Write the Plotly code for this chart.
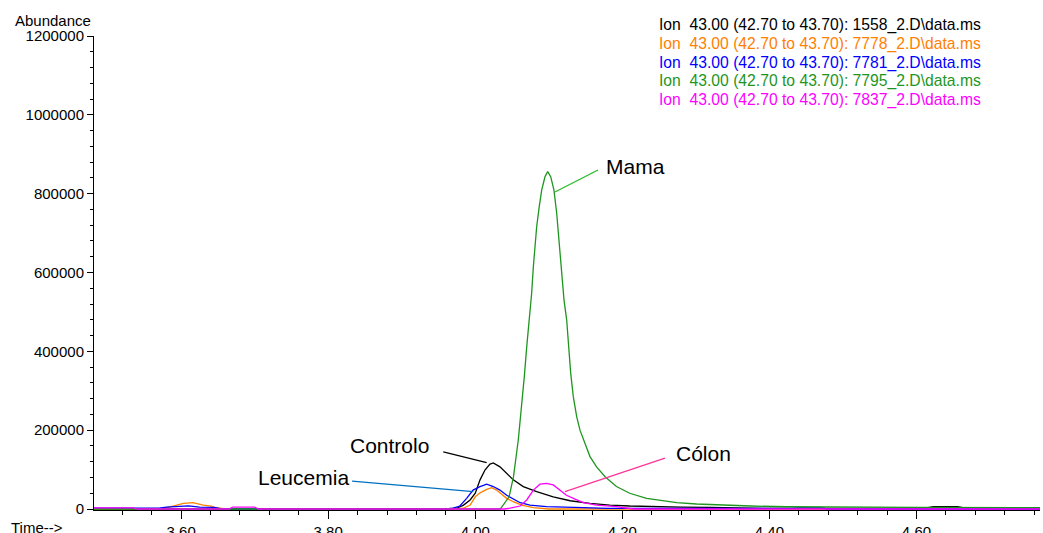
import plotly.graph_objects as go

# ---------------- data ----------------
series_names = [
    "Ion  43.00 (42.70 to 43.70): 1558_2.D\\data.ms",
    "Ion  43.00 (42.70 to 43.70): 7778_2.D\\data.ms",
    "Ion  43.00 (42.70 to 43.70): 7781_2.D\\data.ms",
    "Ion  43.00 (42.70 to 43.70): 7795_2.D\\data.ms",
    "Ion  43.00 (42.70 to 43.70): 7837_2.D\\data.ms",
]
series_colors = ["#000000", "#FF8000", "#0000FF", "#1E961E", "#FF00FF"]

t_1558 = [3.48, 3.96, 3.975, 3.984, 3.993, 4.000, 4.0065, 4.0132, 4.020, 4.0245, 4.0336,
          4.0427, 4.0517, 4.0653, 4.0835, 4.106, 4.129, 4.156, 4.183, 4.21, 4.24, 4.28,
          4.32, 4.36, 4.40, 4.61, 4.623, 4.656, 4.67, 4.77]
v_1558 = [0, 0, 2000, 10000, 23000, 40000, 74000, 99000, 114000, 117000, 107000,
          90000, 74000, 57000, 44000, 31000, 21000, 14500, 10000, 7600, 6000, 5000,
          4000, 3000, 1500, 1500, 6000, 6000, 1000, 0]

t_7778 = [3.48, 3.575, 3.589, 3.603, 3.616, 3.630, 3.641, 3.6455, 3.66, 3.975, 3.984,
          3.993, 4.000, 4.0065, 4.0155, 4.0223, 4.029, 4.036, 4.0427, 4.0517, 4.063,
          4.079, 4.10, 4.77]
v_7778 = [0, 1000, 7600, 14500, 16000, 10000, 7600, 4000, 0, 0, 2000,
          10000, 31000, 41000, 50000, 54000, 48000, 38000, 27000, 18500, 10000,
          3500, 0, 0]

t_7781 = [3.48, 3.57, 3.58, 3.60, 3.61, 3.625, 3.645, 3.655, 3.96, 3.970, 3.979, 3.9883,
          3.997, 4.0065, 4.0155, 4.0245, 4.0336, 4.0427, 4.0517, 4.061, 4.0744, 4.097,
          4.147, 4.18, 4.43, 4.44, 4.47, 4.48, 4.77]
v_7781 = [2000, 2000, 5000, 6000, 8000, 5000, 4000, 0, 0, 2000, 7600, 27000,
          48000, 57000, 63000, 57000, 48000, 35000, 25000, 16000, 10000, 6000,
          3500, 1500, 1500, 3000, 3000, 0, 0]

t_7795 = [3.48, 4.034, 4.046, 4.052, 4.0585, 4.063, 4.0667, 4.070, 4.0744, 4.0767, 4.079,
          4.0812, 4.0835, 4.087, 4.0903, 4.0948, 4.0985, 4.1026, 4.107, 4.1107, 4.1143,
          4.1175, 4.1207, 4.1243, 4.1266, 4.1298, 4.1333, 4.138, 4.1424, 4.149, 4.156,
          4.165, 4.1765, 4.192, 4.210, 4.233, 4.256, 4.274, 4.301, 4.337, 4.374, 4.4235,
          4.50, 4.60, 4.77]
v_7795 = [0, 0, 31000, 82000, 175000, 260000, 336000, 412000, 497000, 548000, 615000,
          675000, 716000, 767000, 809000, 843000, 856000, 843000, 809000, 751000, 675000,
          606000, 530000, 480000, 420000, 344000, 285000, 234000, 200000, 167000, 133000,
          107000, 82000, 57000, 40000, 27000, 21000, 16000, 12700, 10000, 7600, 5800,
          4500, 4000, 3500]

t_7837 = [3.48, 3.535, 3.54, 3.665, 3.67, 3.70, 3.705, 4.040, 4.0473, 4.061, 4.070,
          4.079, 4.088, 4.097, 4.106, 4.115, 4.124, 4.1357, 4.147, 4.165, 4.192, 4.215, 4.77]
v_7837 = [3000, 3000, 0, 0, 5000, 5000, 0, 0, 2000, 7600, 23000,
          48000, 63000, 65000, 61000, 48000, 35000, 25000, 16000, 10000, 6000, 0, 0]

series_t = [t_1558, t_7778, t_7781, t_7795, t_7837]
series_v = [v_1558, v_7778, v_7781, v_7795, v_7837]

x_ticks = [3.60, 3.80, 4.00, 4.20, 4.40, 4.60]
y_ticks = [0, 200000, 400000, 600000, 800000, 1000000, 1200000]

# callout labels: text, text position (t, v), line from (t, v) to (t, v), colour
callout_text = ["Mama", "Controlo", "Leucemia", "Cólon"]
callout_pos_t = [4.2175, 3.884, 3.766, 4.311]
callout_pos_v = [870000, 160000, 81000, 142000]
callout_line_t0 = [4.1084, 4.0155, 3.9973, 4.122]
callout_line_v0 = [804000, 117500, 44000, 44000]
callout_line_t1 = [4.1669, 3.9565, 3.8324, 4.258]
callout_line_v1 = [860000, 145000, 71000, 129000]
callout_colors = ["#22BB22", "#000000", "#0070C0", "#FF3399"]

FONT = "Arial, Liberation Sans, sans-serif"

fig = go.Figure()
for name, t, v, c in zip(series_names, series_t, series_v, series_colors):
    fig.add_trace(go.Scatter(x=t, y=v, mode="lines", name=name,
                             line=dict(color=c, width=1.3), showlegend=False))

# callout lines and texts
for txt, tx, ty, x0, y0, x1, y1, c in zip(callout_text, callout_pos_t, callout_pos_v,
                                          callout_line_t0, callout_line_v0,
                                          callout_line_t1, callout_line_v1, callout_colors):
    fig.add_shape(type="line", xref="x", yref="y", x0=x0, y0=y0, x1=x1, y1=y1,
                  line=dict(color=c, width=1.2))
    fig.add_annotation(x=tx, y=ty, xref="x", yref="y", text=txt, showarrow=False,
                       font=dict(family=FONT, size=21, color="#000000"))

# legend as coloured text lines
legend_y = [1.0232, 0.983, 0.943, 0.905, 0.865]
for name, c, ly in zip(series_names, series_colors, legend_y):
    fig.add_annotation(x=0.595, y=ly, xref="paper", yref="paper", text=name,
                       showarrow=False, xanchor="left", yanchor="middle",
                       font=dict(family=FONT, size=15.7, color=c))

fig.add_annotation(x=-0.0433, y=1.033, xref="paper", yref="paper", text="Abundance",
                   showarrow=False, xanchor="center", yanchor="middle",
                   font=dict(family=FONT, size=15, color="#000000"))
fig.add_annotation(x=-0.0603, y=-0.0359, xref="paper", yref="paper", text="Time-->",
                   showarrow=False, xanchor="center", yanchor="middle",
                   font=dict(family=FONT, size=15, color="#000000"))

fig.update_layout(
    width=1043, height=533,
    margin=dict(l=94, r=3, t=36, b=23, autoexpand=False),
    paper_bgcolor="white", plot_bgcolor="white",
    font=dict(family=FONT, size=15, color="#000000"),
    xaxis=dict(range=[3.4815, 4.768], tickvals=x_ticks, tickformat=".2f",
               automargin=False,
               showgrid=False, zeroline=False, showline=True, linecolor="#000000",
               linewidth=1, ticks="outside", ticklen=8, tickcolor="#000000",
               minor=dict(dtick=0.04, tick0=3.6, ticks="outside", ticklen=4,
                          tickcolor="#000000", showgrid=False),
               tickfont=dict(size=15)),
    yaxis=dict(range=[-2500, 1200000], tickvals=y_ticks, tickformat="d",
               automargin=False,
               showgrid=False, zeroline=False, showline=True, linecolor="#000000",
               linewidth=1, ticks="outside", ticklen=6, tickcolor="#000000",
               minor=dict(dtick=40000, tick0=0, ticks="outside", ticklen=3,
                          tickcolor="#000000", showgrid=False),
               tickfont=dict(size=15)),
)

fig.write_html("out.html")
